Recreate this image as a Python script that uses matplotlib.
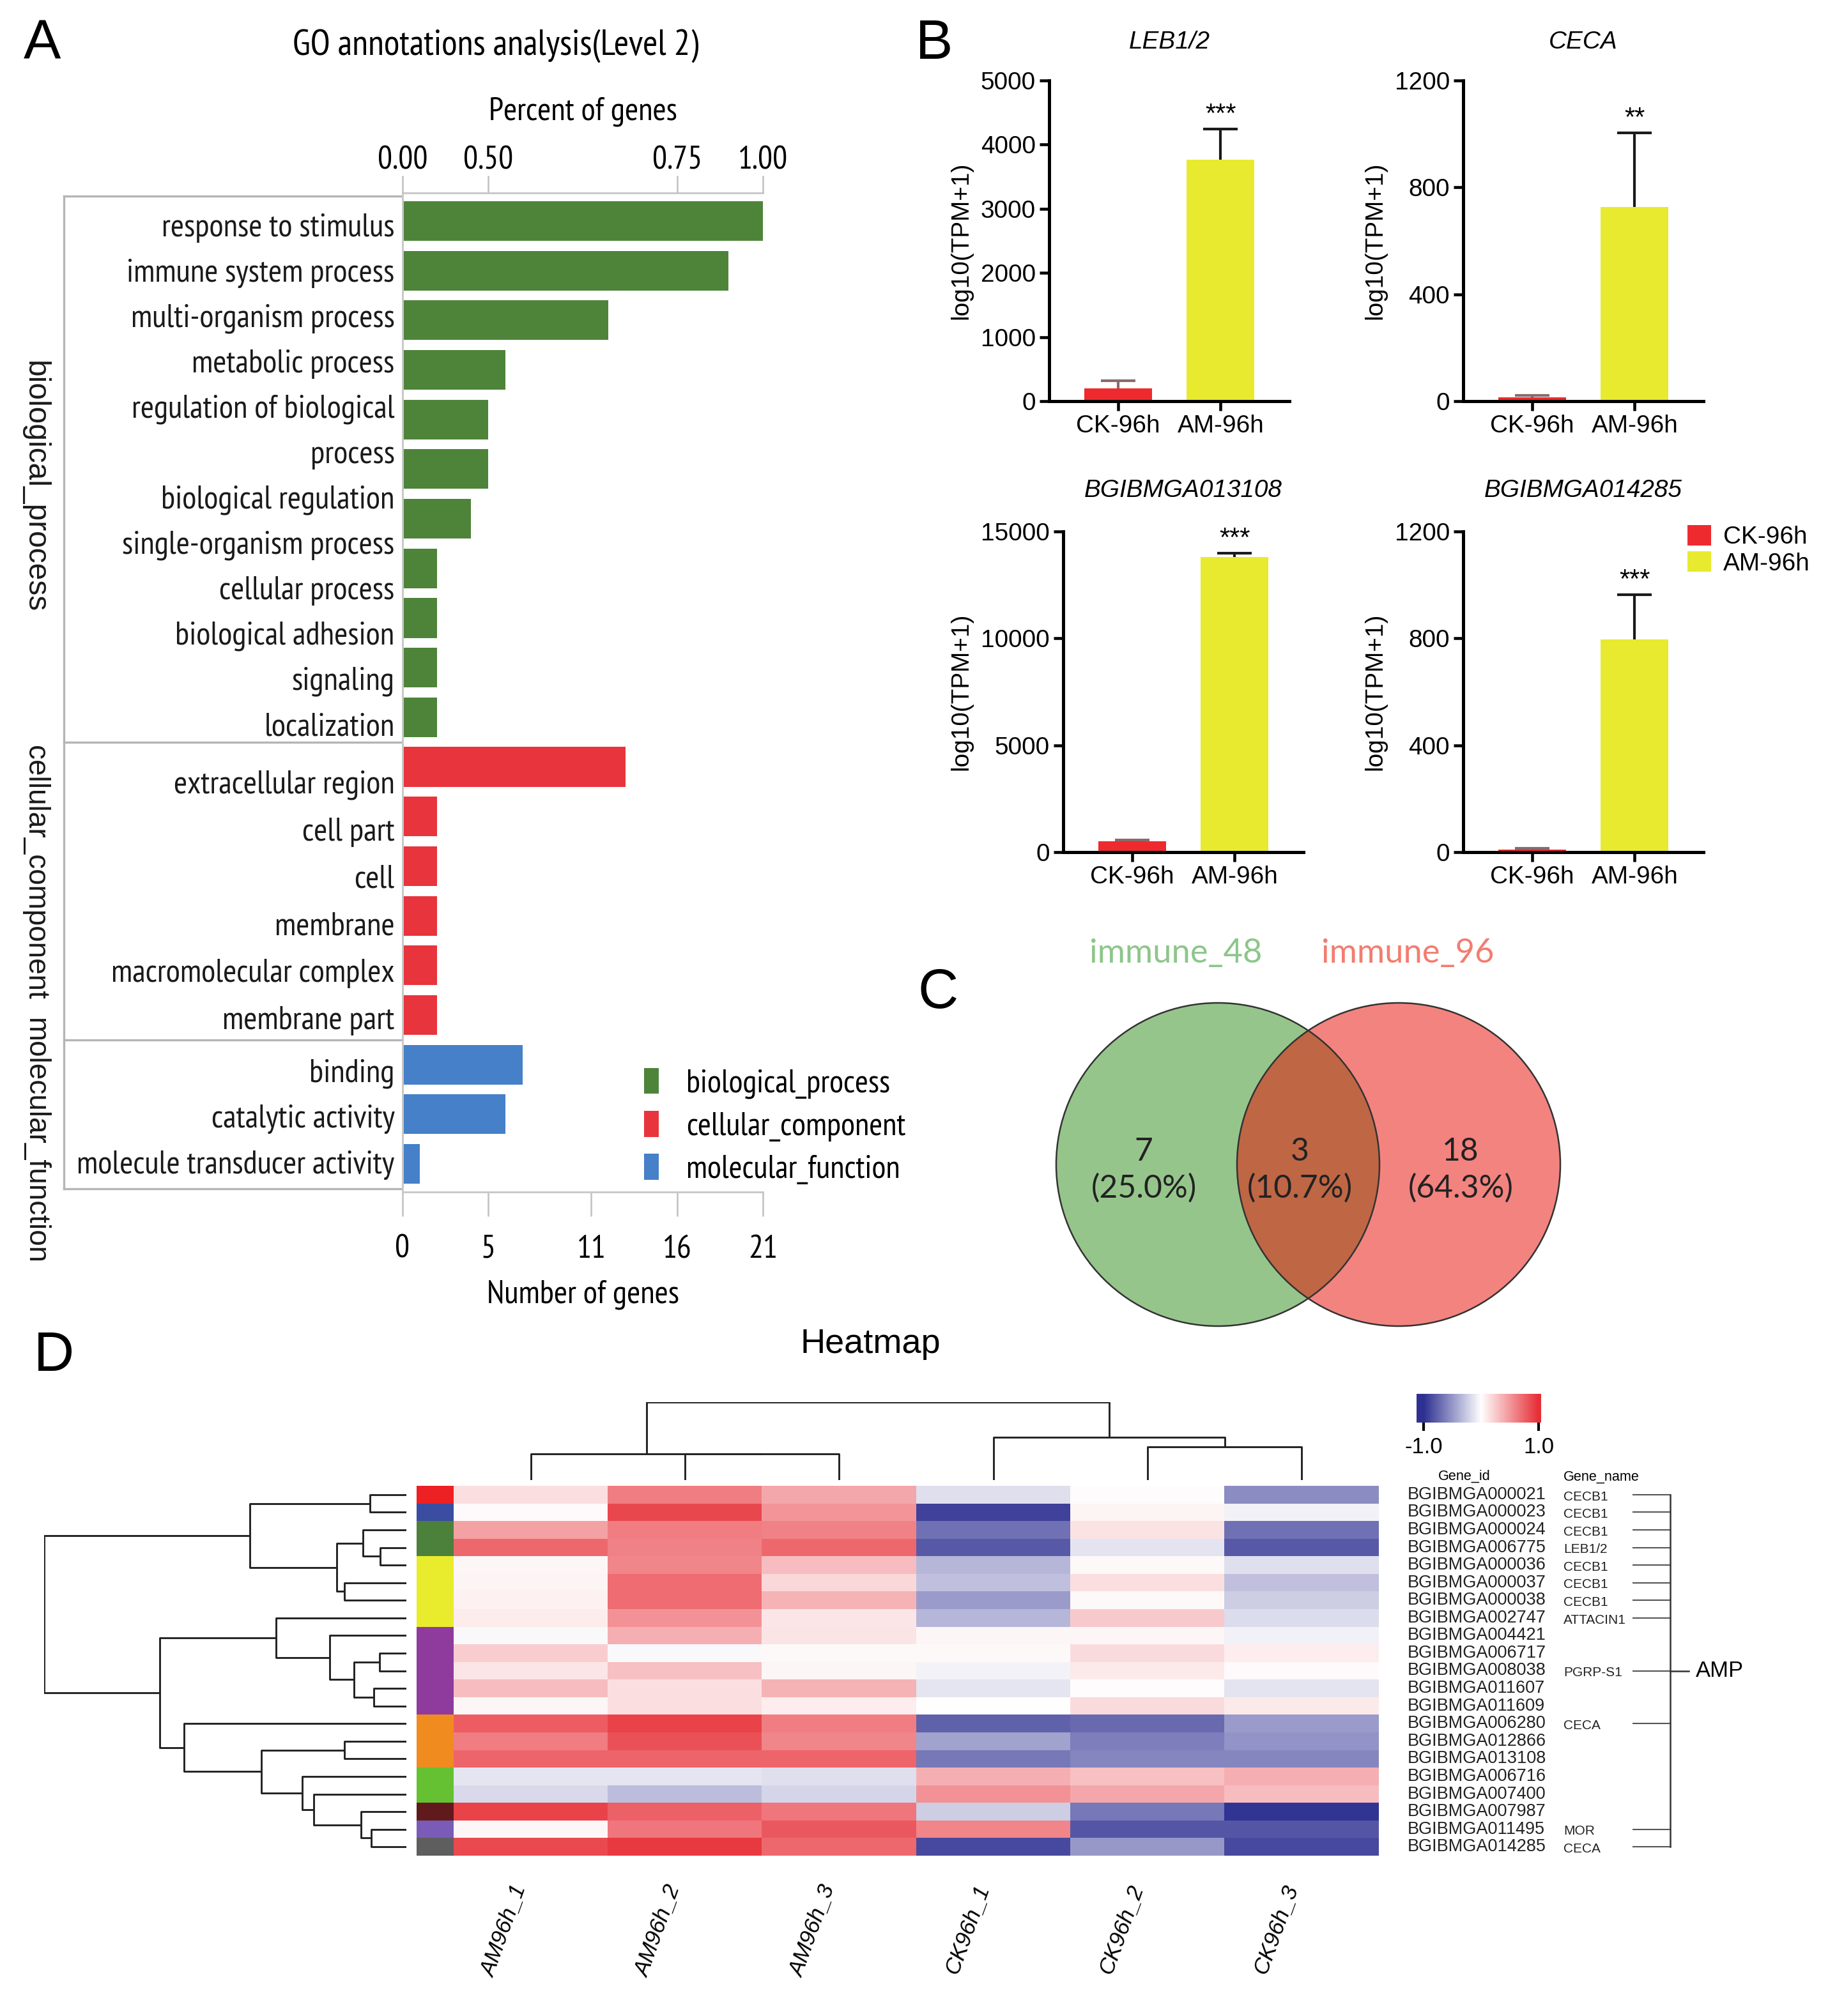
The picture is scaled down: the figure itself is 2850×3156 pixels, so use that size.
import os
import numpy as np
import matplotlib
matplotlib.use('Agg')
import matplotlib.pyplot as plt
from matplotlib import font_manager
from matplotlib.font_manager import FontProperties
from matplotlib.patches import Patch, Circle
from matplotlib.colors import LinearSegmentedColormap
import matplotlib.transforms as mtransforms

# ---------------- data ----------------
bp_terms = ['response to stimulus', 'immune system process', 'multi-organism process',
            'metabolic process', 'regulation of biological\nprocess', 'biological regulation',
            'single-organism process', 'cellular process', 'biological adhesion',
            'signaling', 'localization']
bp_counts = [21, 19, 12, 6, 5, 5, 4, 2, 2, 2, 2]
cc_terms = ['extracellular region', 'cell part', 'cell', 'membrane',
            'macromolecular complex', 'membrane part']
cc_counts = [13, 2, 2, 2, 2, 2]
mf_terms = ['binding', 'catalytic activity', 'molecule transducer activity']
mf_counts = [7, 6, 1]
go_groups = ['biological_process', 'cellular_component', 'molecular_function']
gene_ticks = [0, 5, 11, 16, 21]
pct_tick_pos = [0, 5, 16, 21]
pct_tick_labels = ['0.00', '0.50', '0.75', '1.00']

b_genes = ['LEB1/2', 'CECA', 'BGIBMGA013108', 'BGIBMGA014285']
b_groups = ['CK-96h', 'AM-96h']
b_ck_mean = [199, 15, 514, 9]
b_ck_err = [117, 7, 55, 6]
b_am_mean = [3761, 727, 13809, 795]
b_am_err = [480, 276, 162, 169]
b_sig = ['***', '**', '***', '***']
b_yticks = [[0, 1000, 2000, 3000, 4000, 5000], [0, 400, 800, 1200],
            [0, 5000, 10000, 15000], [0, 400, 800, 1200]]

venn_sets = ['immune_48', 'immune_96']
venn_only_48 = 7
venn_both = 3
venn_only_96 = 18

samples = ['AM96h_1', 'AM96h_2', 'AM96h_3', 'CK96h_1', 'CK96h_2', 'CK96h_3']
gene_ids = ['BGIBMGA000021', 'BGIBMGA000023', 'BGIBMGA000024', 'BGIBMGA006775',
            'BGIBMGA000036', 'BGIBMGA000037', 'BGIBMGA000038', 'BGIBMGA002747',
            'BGIBMGA004421', 'BGIBMGA006717', 'BGIBMGA008038', 'BGIBMGA011607',
            'BGIBMGA011609', 'BGIBMGA006280', 'BGIBMGA012866', 'BGIBMGA013108',
            'BGIBMGA006716', 'BGIBMGA007400', 'BGIBMGA007987', 'BGIBMGA011495',
            'BGIBMGA014285']
gene_names = ['CECB1', 'CECB1', 'CECB1', 'LEB1/2', 'CECB1', 'CECB1', 'CECB1', 'ATTACIN1',
              '', '', 'PGRP-S1', '', '', 'CECA', '', '', '', '', '', 'MOR', 'CECA']
hm_values = np.array([
    [0.15, 0.62, 0.42, -0.15, 0.01, -0.55],
    [0.02, 0.88, 0.50, -0.92, 0.05, -0.07],
    [0.45, 0.62, 0.60, -0.68, 0.14, -0.68],
    [0.72, 0.60, 0.72, -0.80, -0.13, -0.80],
    [0.04, 0.58, 0.32, -0.35, 0.03, -0.15],
    [0.05, 0.70, 0.18, -0.30, 0.15, -0.30],
    [0.07, 0.70, 0.36, -0.48, 0.03, -0.24],
    [0.09, 0.52, 0.12, -0.35, 0.25, -0.17],
    [-0.03, 0.38, 0.13, 0.04, 0.04, -0.07],
    [0.24, -0.03, 0.03, 0.03, 0.17, 0.08],
    [0.12, 0.30, 0.04, -0.06, 0.10, 0.02],
    [0.32, 0.15, 0.36, -0.12, 0.01, -0.13],
    [0.04, 0.15, 0.08, 0.00, 0.17, 0.10],
    [0.78, 0.90, 0.62, -0.76, -0.72, -0.48],
    [0.62, 0.83, 0.58, -0.45, -0.62, -0.52],
    [0.74, 0.74, 0.74, -0.65, -0.58, -0.58],
    [-0.12, -0.12, -0.15, 0.38, 0.30, 0.38],
    [-0.18, -0.32, -0.20, 0.52, 0.42, 0.32],
    [0.90, 0.75, 0.65, -0.24, -0.65, -0.98],
    [0.04, 0.65, 0.80, 0.58, -0.82, -0.82],
    [0.87, 0.95, 0.72, -0.88, -0.50, -0.88],
])
row_cluster = [0, 1, 2, 2, 3, 3, 3, 3, 4, 4, 4, 4, 4, 5, 5, 5, 6, 6, 7, 8, 9]
row_cluster_colors = ['#ED2024', '#3A4DA0', '#4B813A', '#E9EB2D', '#8F3A9D',
                      '#F08B20', '#66C132', '#611A1C', '#7A5CB8', '#5E5E5E']
# linkage: (child a, child b, height); leaves 0..n-1, merges numbered n, n+1, ...
row_linkage = [(0, 1, 64), (3, 4, 46), (2, 22, 76), (5, 6, 109), (23, 24, 122),
               (21, 25, 274), (9, 10, 47), (11, 12, 57), (27, 28, 92), (8, 29, 134),
               (7, 30, 228), (14, 15, 109), (19, 20, 62), (18, 33, 80), (17, 34, 162),
               (16, 35, 182), (32, 36, 254), (13, 37, 390), (31, 38, 432), (26, 39, 635)]
col_linkage = [(1, 2, 121), (0, 6, 122), (4, 5, 152), (3, 8, 198), (7, 9, 360)]
amp_label = 'AMP'

# ---------------- setup ----------------
W, H = 2850, 3156
fig = plt.figure(figsize=(W / 300, H / 300), dpi=300)
names = {f.name for f in font_manager.fontManager.ttflist}
SANS = 'Liberation Sans' if 'Liberation Sans' in names else 'DejaVu Sans'
plt.rcParams['font.family'] = [SANS, 'DejaVu Sans']


def pick_condensed():
    best, best_p = None, 99
    for f in font_manager.fontManager.ttflist:
        fn = os.path.basename(f.fname).lower()
        nm = f.name.lower()
        if any(k in fn for k in ('bold', 'italic', 'oblique', 'light', 'thin', 'black', 'medium')):
            continue
        if f.style != 'normal':
            continue
        p = 99
        if 'liberationsansnarrow' in fn.replace('-', '') or 'sans narrow' in nm:
            p = 0
        elif 'roboto' in nm and 'condensed' in (nm + fn):
            p = 1
        elif 'narrow' in (nm + fn):
            p = 2
        elif ('condensed' in (nm + fn)) and ('sans' in nm or 'sans' in fn):
            p = 3
        if p < best_p:
            best, best_p = f.fname, p
    if best is not None:
        return FontProperties(fname=best)
    for fam in ('Roboto', 'Liberation Sans'):
        if fam in names:
            return FontProperties(family=fam)
    return FontProperties(family='DejaVu Sans')


renderer = fig.canvas.get_renderer()


def fit_size(fp, sample, target_px, ref_size=10.0):
    p = fp.copy()
    p.set_size(ref_size)
    t = fig.text(0, 0, sample, fontproperties=p)
    w = t.get_window_extent(renderer).width
    t.remove()
    return ref_size * target_px / w


NARROW_BASE = pick_condensed()
sz_lab = fit_size(NARROW_BASE, 'response to stimulus', 364)
sz_title = fit_size(NARROW_BASE, 'GO annotations analysis(Level 2)', 634)
sz_leg = fit_size(NARROW_BASE, 'cellular_component', 342)


def nfp(size):
    p = NARROW_BASE.copy()
    p.set_size(size)
    return p


VENN_BASE = FontProperties(family='Lato' if 'Lato' in names else SANS)
sz_vlab = fit_size(VENN_BASE, 'immune_48', 270)
sz_vnum = fit_size(VENN_BASE, '(25.0%)', 165)


def vfp(size):
    p = VENN_BASE.copy()
    p.set_size(size)
    return p


def add_ax(x0, y0, x1, y1):
    return fig.add_axes([x0 / W, 1 - y1 / H, (x1 - x0) / W, (y1 - y0) / H])


def fx(x):
    return x / W


def fy(y):
    return 1 - y / H


# panel letters
for letter, (x, y) in zip('ABCD', [(66, 70), (1462, 70), (1468, 1556), (84, 2124)]):
    fig.text(fx(x), fy(y), letter, ha='center', va='center', fontsize=21, family=SANS)

# ---------------- Panel A ----------------
axA = add_ax(630, 302, 1194, 1866)
groups_terms = [bp_terms, cc_terms, mf_terms]
groups_counts = [bp_counts, cc_counts, mf_counts]
group_colors = ['#4E843A', '#E8343C', '#4580C8']
group_label_shift = [0.36, -0.37, 0.53]
term_line_step = [0.914, 0.95, 0.92]
term_line_shift = [0.17, 0.24, 0.10]
pos = 0
gray = '#B5B5B5'
blend = mtransforms.blended_transform_factory(axA.transAxes, axA.transData)
bounds = [-0.5]
for gi, (terms, counts, col, gname) in enumerate(zip(groups_terms, groups_counts,
                                                     group_colors, go_groups)):
    ys = np.arange(pos, pos + len(counts))
    axA.barh(ys, counts, height=0.8, color=col)
    lines = [ln for t in terms for ln in t.split('\n')]
    center = ys.mean()
    for k, ln in enumerate(lines):
        yk = center + (k - (len(lines) - 1) / 2) * term_line_step[gi] + term_line_shift[gi]
        axA.text(-0.022, yk, ln, transform=blend, ha='right', va='center',
                 fontproperties=nfp(sz_lab), color='#1a1a1a')
    axA.text(-1.02, center + group_label_shift[gi], gname, transform=blend, rotation=270,
             ha='center', va='center', fontsize=11.5 if gi == 0 else 11, family=SANS,
             color='#1a1a1a')
    pos += len(counts)
    bounds.append(pos - 0.5)
for b in bounds:
    axA.plot([-0.94, -0.006], [b, b], transform=blend, color=gray, lw=0.8, clip_on=False)
axA.plot([-0.94, -0.94], [bounds[0], bounds[-1]], transform=blend, color=gray, lw=0.8,
         clip_on=False)
axA.set_xlim(0, 21)
axA.set_ylim(pos - 0.5 + 0.065, -0.565)
axA.set_yticks([])
axA.spines['right'].set_visible(False)
for s in ['left', 'bottom', 'top']:
    axA.spines[s].set_color('#C8C8C8')
    axA.spines[s].set_linewidth(0.7)
axA.set_xticks(gene_ticks)
axA.set_xticklabels([str(t) for t in gene_ticks], fontproperties=nfp(sz_lab))
axA.tick_params(axis='x', length=9, width=0.6, color='#C0C0C0', pad=7)
axA.set_xlabel('Number of genes', fontproperties=nfp(sz_lab), labelpad=6)
axT = axA.twiny()
axT.set_xlim(0, 21)
axT.set_xticks(pct_tick_pos)
axT.set_xticklabels(pct_tick_labels, fontproperties=nfp(sz_lab))
axT.tick_params(axis='x', length=6.5, width=0.6, color='#C0C0C0', pad=0)
for s in axT.spines.values():
    s.set_visible(False)
axT.set_xlabel('Percent of genes', fontproperties=nfp(sz_lab), labelpad=10)
fig.text(fx(776), fy(72), 'GO annotations analysis(Level 2)', ha='center', va='center',
         fontproperties=nfp(sz_title))
axA.legend(handles=[Patch(facecolor=c) for c in group_colors], labels=go_groups,
           loc='upper left', bbox_to_anchor=(fx(1008), fy(1672)),
           bbox_transform=fig.transFigure, frameon=False,
           prop=nfp(sz_leg), handlelength=0.45, handleheight=0.85, handletextpad=0.85,
           labelspacing=0.38, borderpad=0, borderaxespad=0)

# ---------------- Panel B ----------------
RED, YEL = '#EE2A2F', '#E8EA30'
b_rects = [(1642, 126, 2018, 628), (2290, 126, 2666, 628),
           (1664, 832, 2040, 1334), (2290, 832, 2666, 1334)]


def up_errbar(ax, x, m, e, color):
    eb = ax.errorbar([x], [m], yerr=[[0], [e]], fmt='none', ecolor=color, elinewidth=1,
                     capsize=6.5, capthick=1, zorder=1)
    for cl in eb[1]:
        if np.allclose(cl.get_ydata(), m):
            cl.set_visible(False)


for i, (gene, rect) in enumerate(zip(b_genes, b_rects)):
    ax = add_ax(*rect)
    ax.bar([0, 1], [b_ck_mean[i], b_am_mean[i]], width=0.66, color=[RED, YEL], zorder=2)
    up_errbar(ax, 0, b_ck_mean[i], b_ck_err[i], '#8a6a6a')
    up_errbar(ax, 1, b_am_mean[i], b_am_err[i], '#1a1a1a')
    ax.annotate(b_sig[i], (1, b_am_mean[i] + b_am_err[i]), xytext=(0, 0.5),
                textcoords='offset points', ha='center', va='bottom', fontsize=10)
    ax.set_xlim(-0.67, 1.67)
    ax.set_ylim(0, b_yticks[i][-1])
    ax.set_yticks(b_yticks[i])
    ax.set_xticks([0, 1])
    ax.set_xticklabels(b_groups)
    ax.tick_params(labelsize=9.3, length=3.6, width=1.1, pad=1.5)
    for s in ['top', 'right']:
        ax.spines[s].set_visible(False)
    for s in ['left', 'bottom']:
        ax.spines[s].set_linewidth(1.2)
    ax.set_ylabel('log10(TPM+1)', fontsize=9.3, labelpad=3.0)
    ax.set_title(gene, fontsize=9.3, style='italic', pad=12.0 if i < 2 else 13.0)
    if i == 3:
        ax.legend(handles=[Patch(facecolor=RED), Patch(facecolor=YEL)], labels=b_groups,
                  loc='upper left', bbox_to_anchor=(fx(2641), fy(822)),
                  bbox_transform=fig.transFigure, frameon=False, fontsize=9.3,
                  handlelength=0.95, handleheight=0.9, handletextpad=0.5,
                  labelspacing=0.1, borderpad=0, borderaxespad=0)

# ---------------- Panel C (Venn) ----------------
axC = add_ax(1560, 1440, 2520, 2110)
axC.set_xlim(1560, 2520)
axC.set_ylim(2110, 1440)
axC.axis('off')
c1, c2, r = (1906, 1823), (2189, 1823), 253
axC.add_patch(Circle(c1, r, facecolor='#2F8D1B', alpha=0.5, lw=0))
axC.add_patch(Circle(c2, r, facecolor='#E80800', alpha=0.5, lw=0))
axC.add_patch(Circle(c1, r, fill=False, edgecolor='#333333', lw=0.6))
axC.add_patch(Circle(c2, r, fill=False, edgecolor='#333333', lw=0.6))
total = venn_only_48 + venn_both + venn_only_96
for val, x in zip([venn_only_48, venn_both, venn_only_96], [1790, 2034, 2286]):
    axC.text(x, 1832, f'{val}\n({100 * val / total:.1f}%)', ha='center', va='center',
             fontproperties=vfp(sz_vnum), color='#222222', linespacing=1.3)
axC.text(1840, 1492, venn_sets[0], ha='center', va='center', fontproperties=vfp(sz_vlab),
         color='#8DC68B')
axC.text(2203, 1492, venn_sets[1], ha='center', va='center', fontproperties=vfp(sz_vlab),
         color='#F27D70')

# ---------------- Panel D (heatmap) ----------------
cmap = LinearSegmentedColormap.from_list('bwr2', ['#2F3192', '#FFFFFF', '#E72F37'])
HX0, HX1, HY0, HY1 = 710, 2158, 2326, 2905
n_rows, n_cols = hm_values.shape
axH = add_ax(HX0, HY0, HX1, HY1)
axH.imshow(hm_values, cmap=cmap, vmin=-1, vmax=1, aspect='auto', interpolation='nearest')
axH.set_yticks([])
axH.set_xticks(range(n_cols))
axH.set_xticklabels(samples, rotation=70, ha='right', fontsize=8.4, style='italic')
axH.tick_params(axis='x', length=0, pad=10)
for s in axH.spines.values():
    s.set_visible(False)
fig.text(fx(1362), fy(2104), 'Heatmap', ha='center', va='center', fontsize=13)

# sidebar
axS = add_ax(652, HY0, 710, HY1)
sidebar = np.array([[matplotlib.colors.to_rgb(row_cluster_colors[g])] for g in row_cluster])
axS.imshow(sidebar, aspect='auto', interpolation='nearest')
axS.axis('off')


def dendro(ax, linkage, n, orient):
    posd = {i: float(i) for i in range(n)}
    hd = {i: 0.0 for i in range(n)}
    for k, (a, b, h) in enumerate(linkage):
        xs = [hd[a], h, h, hd[b]]
        ys = [posd[a], posd[a], posd[b], posd[b]]
        if orient == 'left':
            ax.plot(xs, ys, color='#222222', lw=0.7, solid_capstyle='butt')
        else:
            ax.plot(ys, xs, color='#222222', lw=0.7, solid_capstyle='butt')
        posd[n + k] = (posd[a] + posd[b]) / 2
        hd[n + k] = h
    return max(h for _, _, h in linkage)


axR = add_ax(69, HY0, 636, HY1)
mh = dendro(axR, row_linkage, n_rows, 'left')
axR.set_xlim(mh, 0)
axR.set_ylim(n_rows - 0.5, -0.5)
axR.axis('off')

axCd = add_ax(HX0, 2195, HX1, 2317)
mh = dendro(axCd, col_linkage, n_cols, 'top')
axCd.set_xlim(-0.5, n_cols - 0.5)
axCd.set_ylim(0, mh)
axCd.axis('off')

# colorbar
cax = add_ax(2217, 2182, 2412, 2227)
grad = np.linspace(-1.12, 1.04, 256)[None, :]
cax.imshow(grad, cmap=cmap, vmin=-1, vmax=1, aspect='auto', extent=(-1.12, 1.04, 0, 1))
cax.set_xlim(-1.12, 1.04)
cax.set_yticks([])
cax.set_xticks([-1, 1])
cax.set_xticklabels(['-1.0', '1.0'], fontsize=8.3)
cax.tick_params(axis='x', length=3.2, width=1.0, pad=2)
for s in cax.spines.values():
    s.set_visible(False)

# gene labels and AMP bracket
axL = add_ax(2180, HY0, 2850, HY1)
axL.set_xlim(2180, 2850)
axL.set_ylim(n_rows - 0.5, -0.5)
axL.axis('off')
axL.text(2292, -1.05, 'Gene_id', ha='center', va='center', fontsize=5.2)
axL.text(2447, -1.0, 'Gene_name', ha='left', va='center', fontsize=5.2)
for i, (gid, gname) in enumerate(zip(gene_ids, gene_names)):
    axL.text(2203, i, gid, ha='left', va='center', fontsize=6.5, color='#222222')
    if gname:
        axL.text(2447, i + 0.12, gname, ha='left', va='center', fontsize=5, color='#222222')
        axL.plot([2556, 2614], [i, i], color='#555555', lw=0.5)
axL.plot([2614, 2614], [0, n_rows - 1], color='#333333', lw=0.6)
mid = (n_rows - 1) / 2
axL.plot([2614, 2643], [mid, mid], color='#333333', lw=0.6)
axL.text(2654, mid, amp_label, ha='left', va='center', fontsize=8.3)

fig.savefig('out.png', dpi=300)
